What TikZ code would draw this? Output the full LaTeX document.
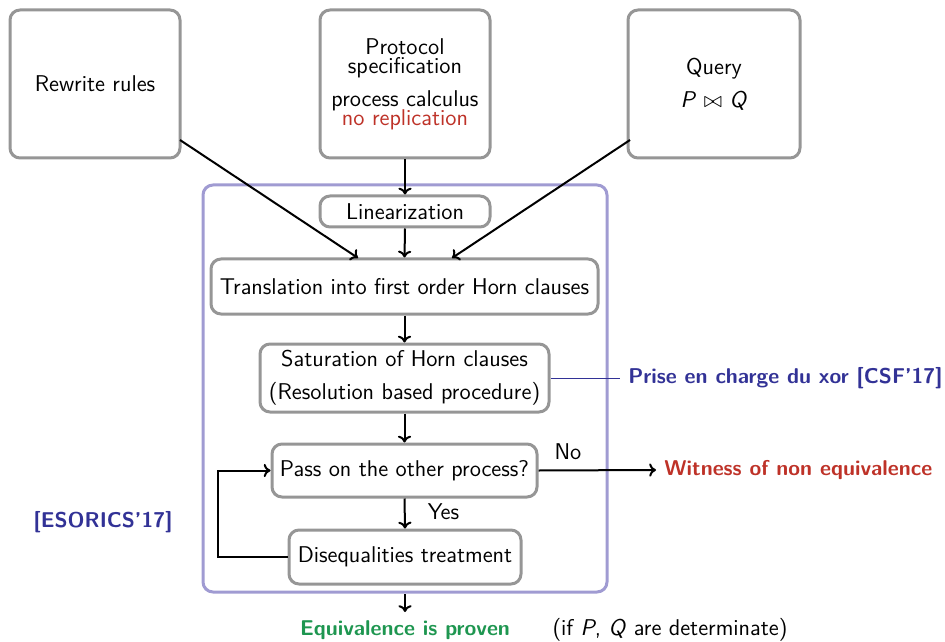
\documentclass[tikz,border=0pt]{standalone}
\usepackage{amssymb}
\usetikzlibrary{arrows.meta}
\renewcommand{\familydefault}{\sfdefault}
\definecolor{boxgray}{RGB}{150,150,150}
\definecolor{framelav}{RGB}{160,155,210}
\definecolor{alertred}{RGB}{190,50,40}
\definecolor{okgreen}{RGB}{30,150,80}
\definecolor{refblue}{RGB}{50,50,150}
\tikzset{
  stage/.style={draw=boxgray, line width=1.5pt, rounded corners=5pt, fill=white,
    inner sep=0pt, align=center,
    font={\fontsize{11.4}{9.5}\selectfont\lineskiplimit=-20pt}},
  flow/.style={-{To[length=3.4pt,width=6.6pt]}, line width=1pt, black},
  plain/.style={font=\fontsize{11.4}{13}\selectfont, inner sep=0pt},
  note/.style={font=\fontsize{10.7}{13}\selectfont\bfseries, inner sep=0pt},
}
\begin{document}
\begin{tikzpicture}[x=0.5pt, y=-0.5pt]
\useasboundingbox (0,0) rectangle (945,641);

% inputs
\node[stage, minimum width=85pt, minimum height=74pt] (rw) at (95,84) {Rewrite rules};
\node[stage, minimum width=85pt, minimum height=74pt] (proto) at (405,84)
  {Protocol\\specification\\[7pt]process calculus\\\textcolor{alertred}{no replication}};
\node[stage, minimum width=86pt, minimum height=74pt] (query) at (714,84)
  {Query\\[7pt]\textit{P} $\bowtie$ \textit{Q}};

% verification engine frame
\draw[framelav, line width=1.5pt, rounded corners=5pt] (203,185) rectangle (607,592);
\coordinate (frameS) at (405,594);

\node[stage, minimum width=85pt, minimum height=15.5pt] (lin) at (405,211.5) {Linearization};
\node[stage, minimum width=193.5pt, minimum height=27.5pt] (trans) at (404.5,286.5)
  {Translation into first order Horn clauses};
\node[stage, minimum width=144.5pt, minimum height=34pt] (sat) at (404.5,378)
  {Saturation of Horn clauses\\[7pt](Resolution based procedure)};
\node[stage, minimum width=132.5pt, minimum height=26.5pt] (pass) at (404.5,470.5)
  {Pass on the other process?};
\node[stage, minimum width=116pt, minimum height=27pt] (dis) at (405,557)
  {Disequalities treatment};

% connectors
\draw[flow] (proto.south) -- (lin.north);
\draw[flow] (lin.south) -- (trans.north);
\coordinate (rwE) at (180,140);
\coordinate (qW) at (630,140);
\draw[flow] (rwE) -- (358,258);
\draw[flow] (qW) -- (452,258);
\draw[flow] (trans.south) -- (sat.north);
\draw[flow] (sat.south) -- (pass.north);
\draw[flow] (pass.south) -- node[plain, right, xshift=11pt, yshift=1pt] (yes) {Yes} (dis.north);
\draw[flow] (dis.west) -- (218,557) |- (pass.west);

\node[note, anchor=west, text=alertred] (wit) at (664,470) {Witness of non equivalence};
\draw[flow] (pass.east) -- ([xshift=-4pt]wit.west);
\node[plain] (no) at (568,452) {No};

\node[note, text=okgreen] (eq) at (405,630) {Equivalence is proven};
\draw[flow] (frameS) -- (405,612);
\node[plain] (det) at (670,630) {(if \textit{P}, \textit{Q} are determinate)};

\node[note, anchor=west, text=refblue] (xor) at (628,378) {Prise en charge du xor [CSF'17]};
\draw[refblue, line width=0.4pt] (sat.east) -- (620,378);
\node[note, text=refblue] (eso) at (103,522) {[ESORICS'17]};
\end{tikzpicture}
\end{document}
